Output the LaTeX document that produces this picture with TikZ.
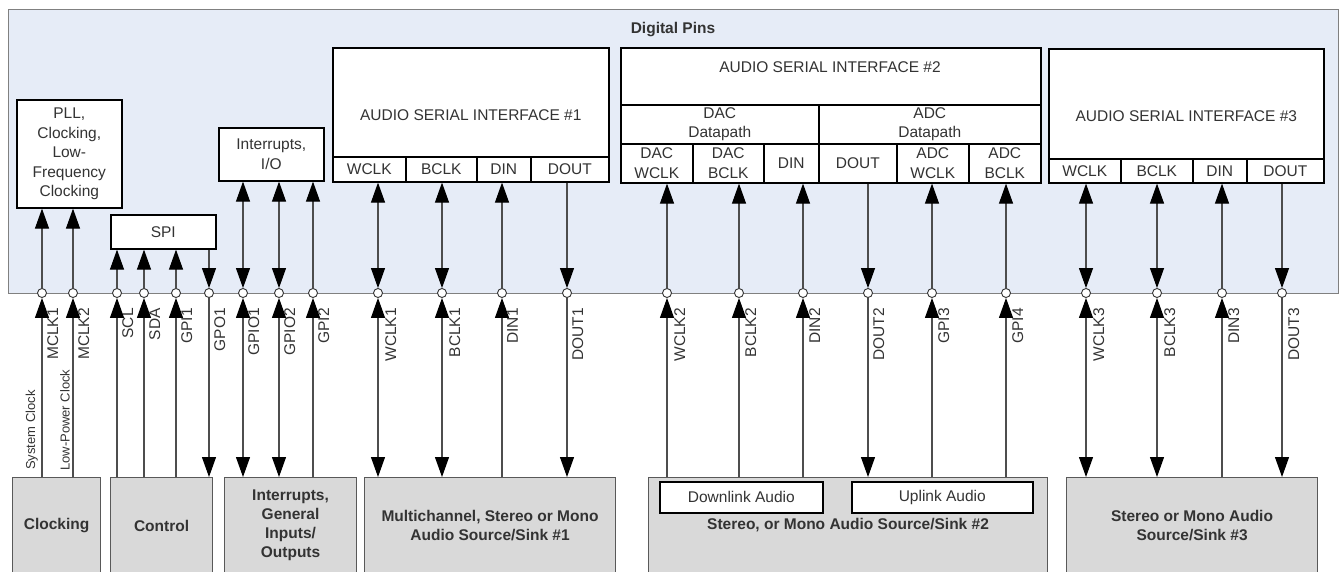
\documentclass[tikz,border=0pt]{standalone}
\usepackage{fontspec}
\setmainfont{Liberation Sans}
\usetikzlibrary{arrows.meta}
\definecolor{ink}{HTML}{333333}
\definecolor{wire}{HTML}{4D4D4D}
\definecolor{frame}{HTML}{808080}
\definecolor{pinbg}{HTML}{E6ECF7}
\definecolor{host}{HTML}{D9D9D9}

\begin{document}
\begin{tikzpicture}[
      x=1pt, y=-1pt,
      >={Triangle[length=20pt,width=14pt,color=black]},
      chip/.style={draw=frame, fill=pinbg, line width=1.3pt, inner sep=0pt, anchor=north west},
      blk/.style={draw=black, fill=white, line width=1.6pt, inner sep=0pt,
                  anchor=north west, align=center, text=ink,
                  font=\fontsize{15.5}{19.5}\selectfont},
      hostbox/.style={draw=black!65, fill=host, line width=1.1pt, inner sep=0pt,
                      anchor=north west, align=center, text=ink,
                      font=\fontsize{15.5}{19}\selectfont\bfseries},
      lbl/.style={inner sep=0pt, text=ink, font=\fontsize{15.5}{19}\selectfont},
      pin/.style={circle, draw=black!80, fill=white, line width=0.9pt,
                  minimum size=9pt, inner sep=0pt},
      pinlbl/.style={rotate=90, anchor=north east, inner sep=0pt, text=ink,
                     font=\fontsize{15.5}{18}\selectfont},
      cklbl/.style={rotate=90, anchor=south west, inner sep=0pt, text=ink,
                    font=\fontsize{13}{15}\selectfont},
      wire/.style={draw=wire, line width=1.1pt},
    ]
      \useasboundingbox (0,0) rectangle (1340,571);

      \node[chip, minimum width=1330pt, minimum height=284pt] (chip) at (8,9) {};
      \node[lbl, font=\fontsize{15.5}{19}\selectfont\bfseries] (chiptitle) at (673,30) {Digital Pins};

      \node[blk, minimum width=105pt, minimum height=108pt] (pll) at (16,99) {PLL,\\Clocking,\\Low-\\Frequency\\Clocking};
      \node[blk, minimum width=105pt, minimum height=34pt] (spi) at (110,214) {SPI};
      \node[blk, minimum width=105pt, minimum height=53pt] (irq) at (218,127) {Interrupts,\\I/O};

      \node[blk, minimum width=276pt, minimum height=134pt] (asi1) at (332,47) {AUDIO SERIAL INTERFACE \#1};
      \node[blk, minimum width=73pt, minimum height=25pt] (asi1-wclk) at (332,156) {WCLK};
      \node[blk, minimum width=71pt, minimum height=25pt] (asi1-bclk) at (405,156) {BCLK};
      \node[blk, minimum width=54pt, minimum height=25pt] (asi1-din) at (476,156) {DIN};
      \node[blk, minimum width=78pt, minimum height=25pt] (asi1-dout) at (530,156) {DOUT};

      \node[blk, minimum width=420pt, minimum height=135pt] (asi2) at (620,47) {};
      \node[lbl] (asi2-title) at (830,67) {AUDIO SERIAL INTERFACE \#2};
      \node[blk, minimum width=198pt, minimum height=39pt] (dacdp) at (620,104) {DAC\\Datapath};
      \node[blk, minimum width=222pt, minimum height=39pt] (adcdp) at (818,104) {ADC\\Datapath};
      \node[blk, minimum width=72pt, minimum height=39pt] (asi2-dwclk) at (620,143) {DAC\\WCLK};
      \node[blk, minimum width=71pt, minimum height=39pt] (asi2-dbclk) at (692,143) {DAC\\BCLK};
      \node[blk, minimum width=55pt, minimum height=39pt] (asi2-din) at (763,143) {DIN};
      \node[blk, minimum width=78pt, minimum height=39pt] (asi2-dout) at (818,143) {DOUT};
      \node[blk, minimum width=72pt, minimum height=39pt] (asi2-awclk) at (896,143) {ADC\\WCLK};
      \node[blk, minimum width=72pt, minimum height=39pt] (asi2-abclk) at (968,143) {ADC\\BCLK};

      \node[blk, minimum width=275pt, minimum height=134pt] (asi3) at (1048,48) {AUDIO SERIAL INTERFACE \#3};
      \node[blk, minimum width=72pt, minimum height=24pt] (asi3-wclk) at (1048,158) {WCLK};
      \node[blk, minimum width=72pt, minimum height=24pt] (asi3-bclk) at (1120,158) {BCLK};
      \node[blk, minimum width=54pt, minimum height=24pt] (asi3-din) at (1192,158) {DIN};
      \node[blk, minimum width=77pt, minimum height=24pt] (asi3-dout) at (1246,158) {DOUT};

      \node[hostbox, minimum width=88pt, minimum height=96pt] (clk) at (12,477) {Clocking};
      \node[hostbox, minimum width=102pt, minimum height=96pt] (ctrl) at (110,477) {Control};
      \node[hostbox, minimum width=132pt, minimum height=96pt] (gpio) at (224,477) {Interrupts,\\General\\Inputs/\\Outputs};
      \node[hostbox, minimum width=251pt, minimum height=96pt] (src1) at (364,477) {Multichannel, Stereo or Mono\\Audio Source/Sink \#1};
      \node[hostbox, minimum width=399pt, minimum height=96pt] (src2) at (648,477) {Stereo, or Mono Audio Source/Sink \#2};
      \node[hostbox, minimum width=251pt, minimum height=96pt] (src3) at (1066,477) {Stereo or Mono Audio\\Source/Sink \#3};
      \node[blk, minimum width=163pt, minimum height=31pt] (dnlink) at (659,481) {Downlink Audio};
      \node[blk, minimum width=181pt, minimum height=31pt] (uplink) at (851,481) {Uplink Audio};

      \node[pin] (mclk1) at (42,293) {};   \node[pinlbl] (mclk1-l) at (47,308) {MCLK1};
      \node[pin] (mclk2) at (73,293) {};   \node[pinlbl] (mclk2-l) at (78,308) {MCLK2};
      \node[pin] (scl) at (117,293) {};    \node[pinlbl] (scl-l) at (122,308) {SCL};
      \node[pin] (sda) at (144,293) {};    \node[pinlbl] (sda-l) at (149,308) {SDA};
      \node[pin] (gpi1) at (176,293) {};   \node[pinlbl] (gpi1-l) at (181,308) {GPI1};
      \node[pin] (gpo1) at (209,293) {};   \node[pinlbl] (gpo1-l) at (214,308) {GPO1};
      \node[pin] (gpio1) at (243,293) {};  \node[pinlbl] (gpio1-l) at (248,308) {GPIO1};
      \node[pin] (gpio2) at (279,293) {};  \node[pinlbl] (gpio2-l) at (284,308) {GPIO2};
      \node[pin] (gpi2) at (313,293) {};   \node[pinlbl] (gpi2-l) at (318,308) {GPI2};
      \node[pin] (wclk1) at (378,293) {};  \node[pinlbl] (wclk1-l) at (385,308) {WCLK1};
      \node[pin] (bclk1) at (442,293) {};  \node[pinlbl] (bclk1-l) at (449,308) {BCLK1};
      \node[pin] (din1) at (502,293) {};   \node[pinlbl] (din1-l) at (507,308) {DIN1};
      \node[pin] (dout1) at (567,293) {};  \node[pinlbl] (dout1-l) at (572,308) {DOUT1};
      \node[pin] (wclk2) at (667,293) {};  \node[pinlbl] (wclk2-l) at (674,308) {WCLK2};
      \node[pin] (bclk2) at (739,293) {};  \node[pinlbl] (bclk2-l) at (745,308) {BCLK2};
      \node[pin] (din2) at (803,293) {};   \node[pinlbl] (din2-l) at (809,308) {DIN2};
      \node[pin] (dout2) at (868,293) {};  \node[pinlbl] (dout2-l) at (873,308) {DOUT2};
      \node[pin] (gpi3) at (932,293) {};   \node[pinlbl] (gpi3-l) at (938,308) {GPI3};
      \node[pin] (gpi4) at (1006,293) {};  \node[pinlbl] (gpi4-l) at (1012,308) {GPI4};
      \node[pin] (wclk3) at (1086,293) {}; \node[pinlbl] (wclk3-l) at (1093,308) {WCLK3};
      \node[pin] (bclk3) at (1157,293) {}; \node[pinlbl] (bclk3-l) at (1164,308) {BCLK3};
      \node[pin] (din3) at (1222,293) {};  \node[pinlbl] (din3-l) at (1228,308) {DIN3};
      \node[pin] (dout3) at (1282,293) {}; \node[pinlbl] (dout3-l) at (1288,308) {DOUT3};

      \node[cklbl] (sysclk) at (38,470) {System Clock};
      \node[cklbl] (lpclk) at (70,471) {Low-Power Clock};

      \draw[wire,->] (mclk1) -- (mclk1 |- pll.south);
      \draw[wire,->] (mclk2) -- (mclk2 |- pll.south);
      \draw[wire,->] (scl) -- (scl |- spi.south);
      \draw[wire,->] (sda) -- (sda |- spi.south);
      \draw[wire,->] (gpi1) -- (gpi1 |- spi.south);
      \draw[wire,->] (gpo1 |- spi.south) -- (gpo1);
      \draw[wire,<->] (gpio1) -- (gpio1 |- irq.south);
      \draw[wire,<->] (gpio2) -- (gpio2 |- irq.south);
      \draw[wire,->] (gpi2) -- (gpi2 |- irq.south);
      \draw[wire,<->] (wclk1) -- (wclk1 |- asi1.south);
      \draw[wire,<->] (bclk1) -- (bclk1 |- asi1.south);
      \draw[wire,->] (din1) -- (din1 |- asi1.south);
      \draw[wire,->] (dout1 |- asi1.south) -- (dout1);
      \draw[wire,->] (wclk2) -- (wclk2 |- asi2.south);
      \draw[wire,->] (bclk2) -- (bclk2 |- asi2.south);
      \draw[wire,->] (din2) -- (din2 |- asi2.south);
      \draw[wire,->] (dout2 |- asi2.south) -- (dout2);
      \draw[wire,->] (gpi3) -- (gpi3 |- asi2.south);
      \draw[wire,->] (gpi4) -- (gpi4 |- asi2.south);
      \draw[wire,<->] (wclk3) -- (wclk3 |- asi3.south);
      \draw[wire,<->] (bclk3) -- (bclk3 |- asi3.south);
      \draw[wire,->] (din3) -- (din3 |- asi3.south);
      \draw[wire,->] (dout3 |- asi3.south) -- (dout3);

      \draw[wire,->] (mclk1 |- clk.north) -- (mclk1);
      \draw[wire,->] (mclk2 |- clk.north) -- (mclk2);
      \draw[wire,->] (scl |- ctrl.north) -- (scl);
      \draw[wire,->] (sda |- ctrl.north) -- (sda);
      \draw[wire,->] (gpi1 |- ctrl.north) -- (gpi1);
      \draw[wire,->] (gpo1) -- (gpo1 |- ctrl.north);
      \draw[wire,<->] (gpio1) -- (gpio1 |- gpio.north);
      \draw[wire,<->] (gpio2) -- (gpio2 |- gpio.north);
      \draw[wire,->] (gpi2 |- gpio.north) -- (gpi2);
      \draw[wire,<->] (wclk1) -- (wclk1 |- src1.north);
      \draw[wire,<->] (bclk1) -- (bclk1 |- src1.north);
      \draw[wire,->] (din1 |- src1.north) -- (din1);
      \draw[wire,->] (dout1) -- (dout1 |- src1.north);
      \draw[wire,->] (wclk2 |- src2.north) -- (wclk2);
      \draw[wire,->] (bclk2 |- src2.north) -- (bclk2);
      \draw[wire,->] (din2 |- src2.north) -- (din2);
      \draw[wire,->] (dout2) -- (dout2 |- src2.north);
      \draw[wire,->] (gpi3 |- src2.north) -- (gpi3);
      \draw[wire,->] (gpi4 |- src2.north) -- (gpi4);
      \draw[wire,<->] (wclk3) -- (wclk3 |- src3.north);
      \draw[wire,<->] (bclk3) -- (bclk3 |- src3.north);
      \draw[wire,->] (din3 |- src3.north) -- (din3);
      \draw[wire,->] (dout3) -- (dout3 |- src3.north);

    \end{tikzpicture}
\end{document}
